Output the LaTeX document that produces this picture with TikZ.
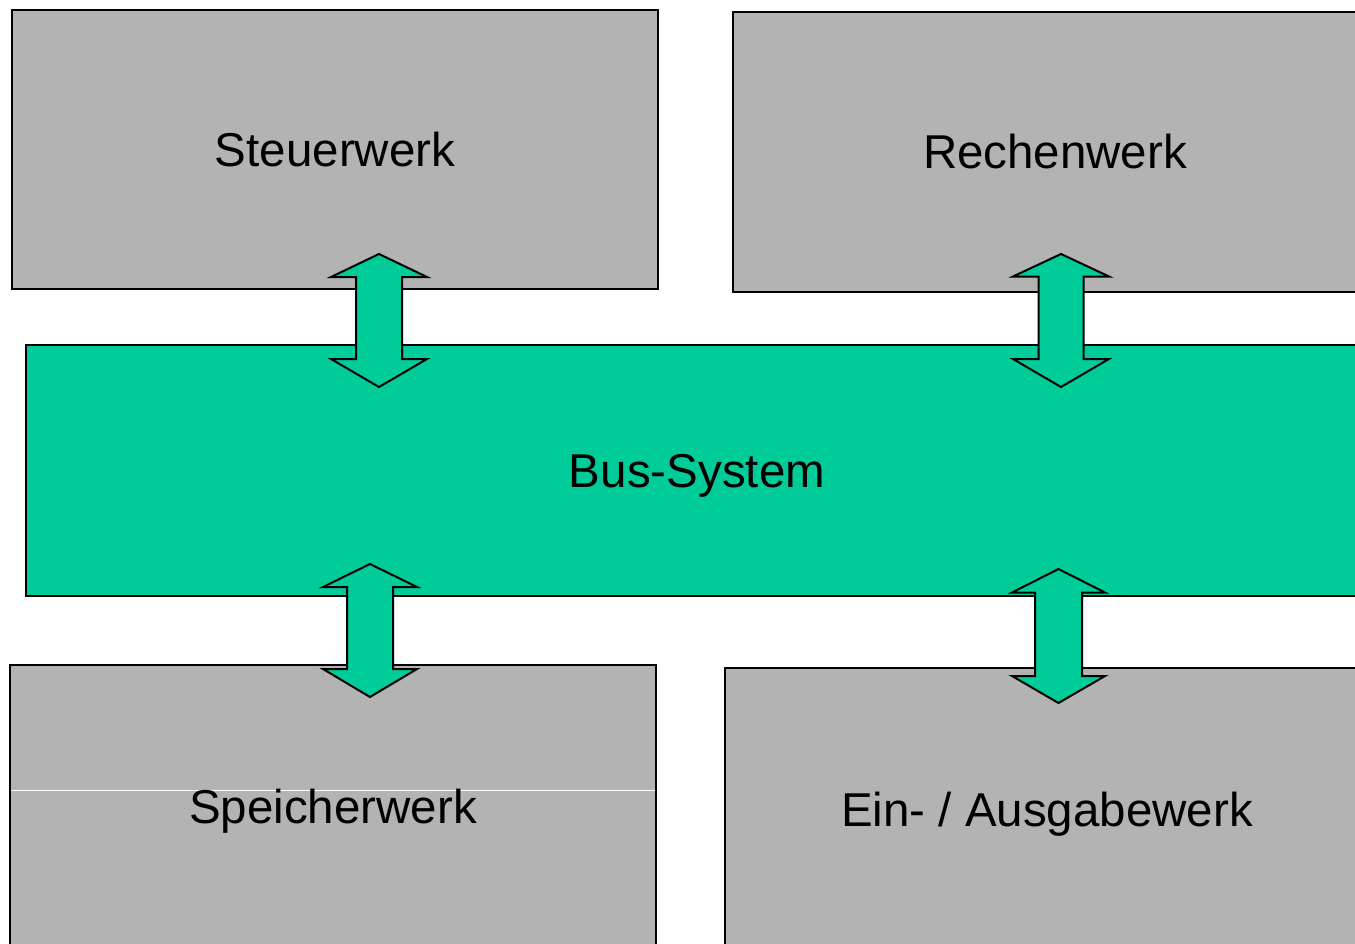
\documentclass[tikz,border=0pt]{standalone}
\usepackage{fontspec}
\setmainfont{Liberation Sans}
\definecolor{boxgray}{RGB}{179,179,179}
\definecolor{busgreen}{RGB}{0,204,153}
\newcommand{\myDblArrow}[7]{% name, cx, top, bottom, head half width, shaft half width, head height
  \draw[arrowshape] (#2,#3) coordinate (#1-top)
    -- ++(#5,#6) -- ++(-#5+#6,0) |- (#2+#6,#4-#7)
    -- (#2+#5,#4-#7) -- (#2,#4) coordinate (#1-bot)
    -- (#2-#5,#4-#7) -- (#2-#6,#4-#7) |- (#2-#6,#3+#6) -- (#2-#5,#3+#6) -- cycle;}
\begin{document}
\begin{tikzpicture}[x=1pt,y=-1pt,
  unit/.style={draw=black, line width=2pt, fill=boxgray, inner sep=0pt},
  bus/.style={draw=black, line width=2pt, fill=busgreen, inner sep=0pt},
  label/.style={font=\fontsize{47.5}{50}\selectfont, text height=34pt, text depth=0pt, inner sep=0pt},
  arrowshape/.style={draw=black, line width=2pt, fill=busgreen, line join=miter}]
\useasboundingbox (0,0) rectangle (1355,944);
\clip (0,0) rectangle (1355,944);
% units
\node[unit, minimum width=646pt, minimum height=279pt] (steuer) at (335,149.5) {};
\node[unit, minimum width=644pt, minimum height=280pt] (rechen) at (1055,152) {};
\node[bus, minimum width=1342pt, minimum height=251pt] (bussys) at (697,470.5) {};
\node[unit, minimum width=646pt, minimum height=282pt] (speicher) at (333,806) {};
\node[unit, minimum width=644pt, minimum height=282pt] (einaus) at (1047,809) {};
\draw[white, line width=1pt] (11,790) -- (655,790);
% labels
\node[label] (steuerL) at (steuer.center) {Steuerwerk};
\node[label] (rechenL) at (rechen.center) {Rechenwerk};
\node[label] (busL) at (bussys.center) {Bus-System};
\node[label] (speicherL) at (speicher.center) {Speicherwerk};
\node[label] (einausL) at (einaus.center) {Ein- / Ausgabewerk};
% double arrows
\myDblArrow{a1}{379}{254}{387}{48}{23}{28}
\myDblArrow{a2}{1061}{254}{387}{48}{22.5}{28}
\myDblArrow{a3}{370}{564}{697}{47}{23}{28}
\myDblArrow{a4}{1058.5}{569}{703}{46.5}{23.5}{27}
\end{tikzpicture}
\end{document}
